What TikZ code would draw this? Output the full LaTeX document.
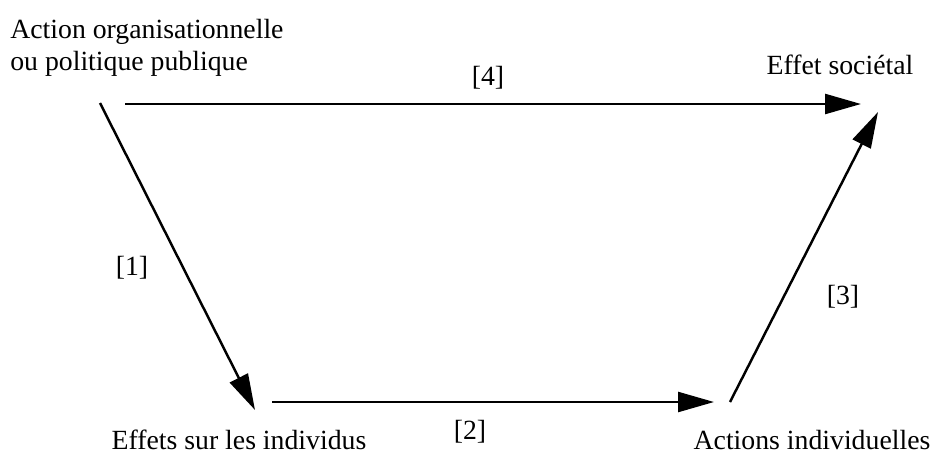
\documentclass[tikz,border=0pt]{standalone}
\usepackage{fontspec}
\setmainfont{Liberation Serif}
\usetikzlibrary{arrows.meta, positioning}
\tikzset{
    label/.style={align=left, inner sep=0pt, font=\fontsize{15.8}{18.2}\selectfont},
    arrow/.style={line width=1.4pt, -{Triangle[length=7.2mm, width=4mm]}},
    tag/.style={inner sep=0pt, font=\fontsize{15.8}{18.2}\selectfont}
}
\begin{document}
\begin{tikzpicture}[x=0.02cm, y=-0.02cm]
            \useasboundingbox (0,0) rectangle (931,457);

            \node[label, anchor=north west] (action) at (10,19) {Action organisationnelle\\ou politique publique};
            \node[label] (societal) at (840,65) {Effet sociétal};
            \node[label] (effets) at (239,440) {Effets sur les individus};
            \node[label] (actions) at (812,440) {Actions individuelles};

            \coordinate (a1) at (100,103);
            \coordinate (b1) at (255,410);
            \coordinate (a2) at (272,402);
            \coordinate (b2) at (714,402);
            \coordinate (a3) at (730,402);
            \coordinate (b3) at (878,112);
            \coordinate (a4) at (125,104);
            \coordinate (b4) at (861,104);

            \draw[arrow] (a1) -- (b1);
            \draw[arrow] (a2) -- (b2);
            \draw[arrow] (a3) -- (b3);
            \draw[arrow] (a4) -- (b4);

            \node[tag] (t1) at (132,268) {[1]};
            \node[tag] (t2) at (470,432) {[2]};
            \node[tag] (t3) at (843,297) {[3]};
            \node[tag] (t4) at (488,78) {[4]};
        \end{tikzpicture}
\end{document}
